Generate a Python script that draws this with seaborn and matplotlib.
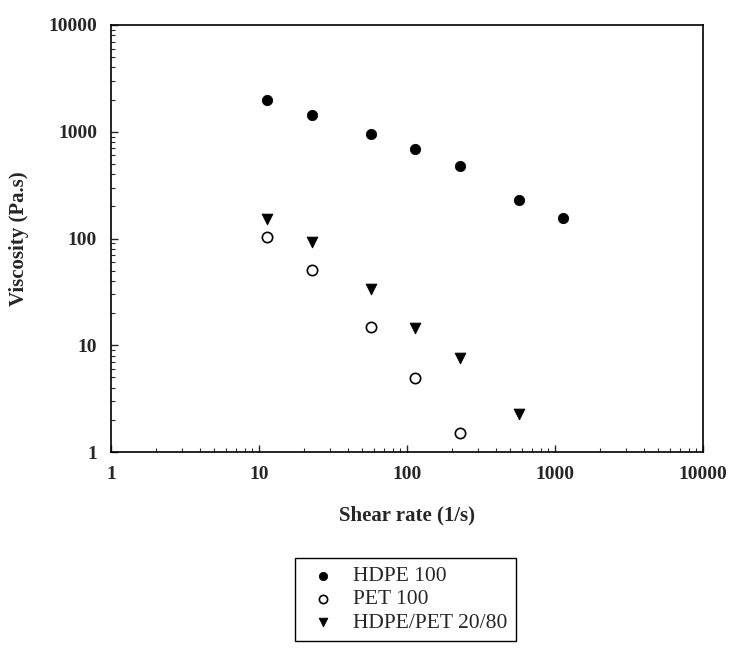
import seaborn as sns
import pandas as pd
import matplotlib.pyplot as plt
from matplotlib.ticker import LogLocator, FuncFormatter

# ------------------------ data ------------------------
shear_hdpe = [11.4, 22.8, 57, 114, 228, 570, 1140]
visc_hdpe = [1980, 1430, 945, 685, 475, 230, 155]

shear_pet = [11.4, 22.8, 57, 114, 228]
visc_pet = [104, 51, 14.7, 4.9, 1.5]

shear_blend = [11.4, 22.8, 57, 114, 228, 570]
visc_blend = [151, 93, 33.4, 14.6, 7.6, 2.27]

labels = ["HDPE 100", "PET 100", "HDPE/PET 20/80"]

# ------------------------ setup ------------------------
sns.set_style("ticks")
plt.rcParams["font.family"] = ["Liberation Serif", "DejaVu Serif"]

fig = plt.figure(figsize=(7.29, 6.52), dpi=100)
ax = fig.add_axes([0.1523, 0.3067, 0.812, 0.655])

df_hdpe = pd.DataFrame({"x": shear_hdpe, "y": visc_hdpe})
df_pet = pd.DataFrame({"x": shear_pet, "y": visc_pet})
df_blend = pd.DataFrame({"x": shear_blend, "y": visc_blend})

sns.scatterplot(data=df_hdpe, x="x", y="y", ax=ax, marker="o", s=55,
                color="black", edgecolor="black", label=labels[0])
sns.scatterplot(data=df_pet, x="x", y="y", ax=ax, marker="o", s=55,
                facecolor="white", edgecolor="black", linewidth=1.2, label=labels[1])
sns.scatterplot(data=df_blend, x="x", y="y", ax=ax, marker="v", s=60,
                color="black", edgecolor="black", label=labels[2])

ax.set_xscale("log")
ax.set_yscale("log")
ax.set_xlim(1, 10000)
ax.set_ylim(1, 10000)

fmt = FuncFormatter(lambda v, p: f"{int(round(v))}")
for axis in (ax.xaxis, ax.yaxis):
    axis.set_major_locator(LogLocator(base=10, numticks=10))
    axis.set_minor_locator(LogLocator(base=10, subs=range(2, 10), numticks=10))
    axis.set_major_formatter(fmt)

ax.tick_params(which="major", direction="in", length=5, width=1,
               labelsize=14, pad=10)
ax.tick_params(which="minor", direction="in", length=3, width=0.8)
for lab in ax.get_xticklabels() + ax.get_yticklabels():
    lab.set_fontweight("bold")

for sp in ax.spines.values():
    sp.set_linewidth(1.2)
    sp.set_color("black")

ax.set_xlabel("Shear rate (1/s)", fontsize=15, fontweight="bold", labelpad=16)
ax.set_ylabel("Viscosity (Pa.s)", fontsize=15, fontweight="bold", labelpad=14)

ax.legend(loc="upper left", bbox_to_anchor=(0.31, -0.247), fontsize=15.5,
          frameon=True, fancybox=False, edgecolor="black", framealpha=1,
          handletextpad=0.5, handlelength=1.8, borderpad=0.4, labelspacing=0.15,
          markerscale=0.8, borderaxespad=0)

fig.savefig("out.png", dpi=100, facecolor="white")
